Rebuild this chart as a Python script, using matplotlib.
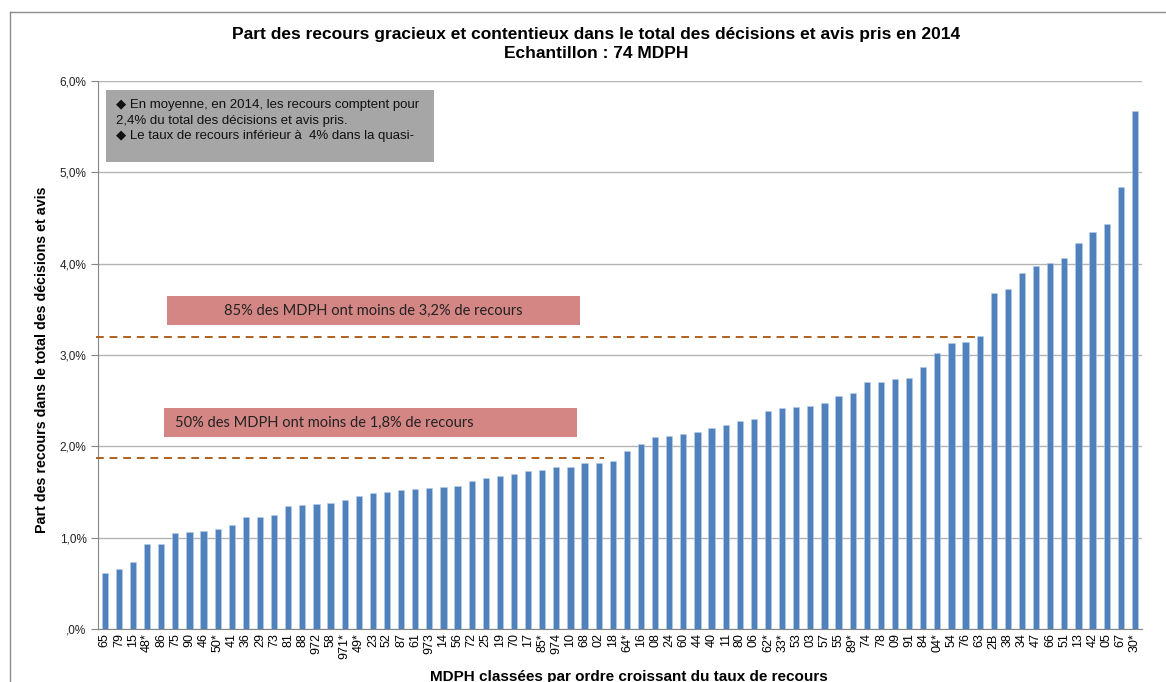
import matplotlib
matplotlib.use('Agg')
import matplotlib.pyplot as plt
from matplotlib.patches import Rectangle
from matplotlib.lines import Line2D
from matplotlib.ticker import FuncFormatter

# Données : MDPH classées par taux de recours croissant (en %)
mdph = ['65', '79', '15', '48*', '86', '75', '90', '46', '50*', '41', '36', '29', '73',
        '81', '88', '972', '58', '971*', '49*', '23', '52', '87', '61', '973', '14', '56',
        '72', '25', '19', '70', '17', '85*', '974', '10', '68', '02', '18', '64*', '16',
        '08', '24', '60', '44', '40', '11', '80', '06', '62*', '33*', '53', '03', '57',
        '55', '89*', '74', '78', '09', '91', '84', '04*', '54', '76', '63', '2B', '38',
        '34', '47', '66', '51', '13', '42', '05', '67', '30*']
taux = [0.61, 0.66, 0.73, 0.93, 0.93, 1.05, 1.06, 1.07, 1.10, 1.14, 1.23, 1.23, 1.25,
        1.35, 1.36, 1.37, 1.38, 1.41, 1.46, 1.49, 1.50, 1.52, 1.53, 1.54, 1.55, 1.57,
        1.62, 1.65, 1.68, 1.70, 1.73, 1.74, 1.77, 1.77, 1.82, 1.82, 1.84, 1.95, 2.03,
        2.10, 2.11, 2.14, 2.16, 2.20, 2.23, 2.28, 2.30, 2.39, 2.42, 2.43, 2.44, 2.47,
        2.55, 2.58, 2.70, 2.70, 2.74, 2.75, 2.87, 3.02, 3.13, 3.14, 3.21, 3.68, 3.72,
        3.90, 3.98, 4.01, 4.06, 4.23, 4.35, 4.43, 4.84, 5.67]
seuil_85 = 3.2
seuil_50 = 1.87

titre = ("Part des recours gracieux et contentieux dans le total des décisions et avis pris en 2014\n"
         "Echantillon : 74 MDPH")
texte_encadre = ("\u25c6 En moyenne, en 2014, les recours comptent pour\n"
                 "2,4% du total des décisions et avis pris.\n"
                 "\u25c6 Le taux de recours inférieur à  4% dans la quasi-")

plt.rcParams['font.family'] = ['Liberation Sans', 'DejaVu Sans']

fig = plt.figure(figsize=(11.66, 6.82), dpi=100)
ax = fig.add_axes([0.0838, 0.0777, 0.8956, 0.8035])

x = list(range(len(mdph)))
ax.bar(x, taux, width=0.44, color='#4f81bd', edgecolor='#b9cde5', linewidth=0.4, zorder=3)

ax.set_xlim(-0.5, len(mdph) - 0.5)
ax.set_ylim(0, 6)
ax.set_yticks([0, 1, 2, 3, 4, 5, 6])
ax.yaxis.set_major_formatter(FuncFormatter(lambda v, p: ',0%' if v == 0 else f'{v:.1f}%'.replace('.', ',')))
ax.set_xticks(x)
ax.set_xticklabels(mdph, rotation=90, fontsize=9)
ax.tick_params(axis='x', length=0, pad=3)
ax.tick_params(axis='y', length=5, color='#868686', labelsize=8.5, labelcolor='#222222', pad=3)
ax.grid(axis='y', color='#b3b3b3', linewidth=1, zorder=0)
for s in ['top', 'right']:
    ax.spines[s].set_visible(False)
for s in ['left', 'bottom']:
    ax.spines[s].set_color('#868686')

# Lignes de seuil en pointillés
ax.plot([-0.6, 62], [seuil_85, seuil_85], linestyle=(0, (4, 3)), color='#b0601e', linewidth=1.4, zorder=4, clip_on=False)
ax.plot([-0.6, 35.4], [seuil_50, seuil_50], linestyle=(0, (4, 3)), color='#b0601e', linewidth=1.4, zorder=4, clip_on=False)

# Encadré gris
ax.add_patch(Rectangle((0.008, 0.852), 0.314, 0.1316, transform=ax.transAxes,
                       facecolor='#a6a6a6', edgecolor='none', zorder=5))
ax.text(0.0175, 0.967, texte_encadre, transform=ax.transAxes, fontsize=9.5, va='top', ha='left',
        linespacing=1.38, color='#111111', zorder=6)

# Encadrés rouges
ax.add_patch(Rectangle((0.0664, 0.5547), 0.3956, 0.053, transform=ax.transAxes,
                       facecolor='#d38684', edgecolor='none', zorder=5))
ax.text(0.2636, 0.5812, '85% des MDPH ont moins de 3,2% de recours', transform=ax.transAxes,
        fontsize=10.5, family='Lato', ha='center', va='center', color='#222222', zorder=6)
ax.add_patch(Rectangle((0.0635, 0.3504), 0.3955, 0.053, transform=ax.transAxes,
                       facecolor='#d38684', edgecolor='none', zorder=5))
ax.text(0.074, 0.3768, '50% des MDPH ont moins de 1,8% de recours', transform=ax.transAxes,
        fontsize=10.5, family='Lato', ha='left', va='center', color='#222222', zorder=6)

# Titres
fig.text(0.511, 0.9355, titre, ha='center', va='center', fontsize=12.5, fontweight='bold', linespacing=1.3)
fig.text(0.036, 0.472, 'Part des recours dans le total des décisions et avis', rotation=90,
         ha='center', va='center', fontsize=10.3, fontweight='bold')
fig.text(0.539, 0.007, 'MDPH classées par ordre croissant du taux de recours', ha='center', va='center',
         fontsize=11, fontweight='bold')

# Cadre du graphique
fig.add_artist(Line2D([10 / 1166, 10 / 1166], [0, 1 - 12 / 682], color='#8c8c8c', linewidth=1))
fig.add_artist(Line2D([10 / 1166, 1], [1 - 12 / 682, 1 - 12 / 682], color='#8c8c8c', linewidth=1))

fig.savefig('out.png', dpi=100)
